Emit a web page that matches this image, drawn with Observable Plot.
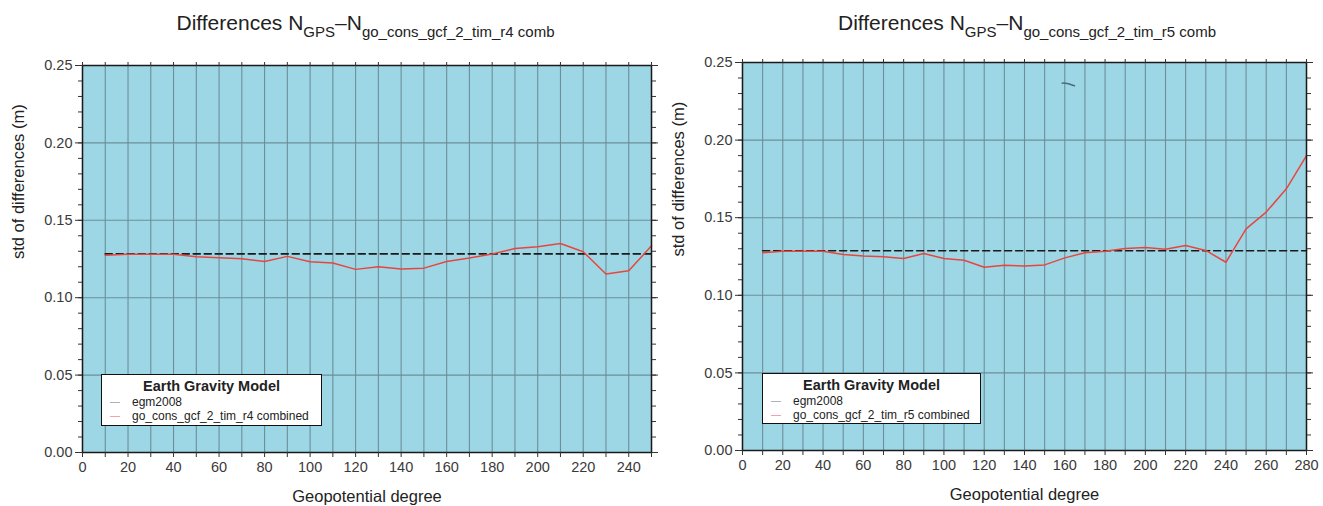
<!DOCTYPE html>
<html>
<head>
<meta charset="utf-8">
<script src="https://cdn.jsdelivr.net/npm/d3@7"></script>
<script src="https://cdn.jsdelivr.net/npm/@observablehq/plot@0.6"></script>
<style>
  html, body { margin: 0; padding: 0; background: #fff; }
  #root { position: relative; width: 1323px; height: 506px; overflow: hidden; font-family: "Liberation Sans", Arial, sans-serif; color: #222; }
  .panel { position: absolute; top: 0; height: 506px; }
  .panel svg { position: absolute; left: 0; top: 0; }
  .title { position: absolute; top: 11px; left: 0; text-align: center; font-size: 21px; color: #222; white-space: nowrap; }
  .title sub { font-size: 15px; vertical-align: -7px; line-height: 0; }
  .legend { position: absolute; background: #fff; border: 1.5px solid #111; box-sizing: border-box; font-size: 12px; color: #222; }
  .legend .lt { font-weight: bold; font-size: 14.5px; text-align: center; margin-top: 3px; line-height: 17px; }
  .legend .row { position: relative; height: 14px; line-height: 14px; padding-left: 30px; }
  .legend .sw { position: absolute; left: 8px; top: 7px; width: 10px; height: 0; border-top: 1.5px solid; }
</style>
</head>
<body>
<div id="root"></div>
<script>
// ---- data ----
const degreesLeft = [10,20,30,40,50,60,70,80,90,100,110,120,130,140,150,160,170,180,190,200,210,220,230,240,250];
const stdLeft = [0.1275,0.1280,0.1280,0.1280,0.1265,0.1258,0.1252,0.1234,0.1267,0.1232,0.1224,0.1183,0.1200,0.1185,0.1191,0.1234,0.1256,0.1282,0.1318,0.1329,0.1350,0.1297,0.1153,0.1174,0.1335];
const egmDegLeft = [10, 250];
const egmStdLeft = [0.1283, 0.1283];

const degreesRight = [10,20,30,40,50,60,70,80,90,100,110,120,130,140,150,160,170,180,190,200,210,220,230,240,250,260,270,280];
const stdRight = [0.1274,0.1284,0.1284,0.1284,0.1263,0.1254,0.1248,0.1237,0.1269,0.1237,0.1226,0.1181,0.1194,0.1188,0.1196,0.1241,0.1274,0.1284,0.1302,0.1308,0.1297,0.1321,0.1289,0.1213,0.1428,0.1536,0.1686,0.1900];
const egmDegRight = [10, 280];
const egmStdRight = [0.1287, 0.1287];
const strayDegRight = [158.7, 161.2, 164.8];
const strayStdRight = [0.2367, 0.2365, 0.2350];

const yTicks = [0, 0.05, 0.10, 0.15, 0.20, 0.25];
const yMinorTicks = d3.range(0, 0.2501, 0.01);
const xTicksLeft = d3.range(0, 251, 10);
const xTicksRight = d3.range(0, 281, 10);

const legendTitle = "Earth Gravity Model";
const legendEgm = "egm2008";
const legendLeft = "go_cons_gcf_2_tim_r4 combined";
const legendRight = "go_cons_gcf_2_tim_r5 combined";
const yLabel = "std of differences (m)";
const xLabel = "Geopotential degree";

// ---- style ----
const bg = "#9dd7e6";
const gridColor = "#6a8a96";
const red = "#e8463d";

function chart({width, marginLeft, marginRight, marginTop, marginBottom, xMax, xTicks, degs, stds, egmDegs, egmStds, stray}) {
  const marks = [
    Plot.frame({fill: bg, stroke: null}),
    Plot.gridX(xTicks, {stroke: gridColor, strokeOpacity: 0.95, strokeWidth: 1.1}),
    Plot.gridY(yTicks, {stroke: gridColor, strokeOpacity: 0.95, strokeWidth: 1.1}),
    Plot.line(egmDegs.map((d, i) => ({d, v: egmStds[i]})), {x: "d", y: "v", stroke: "#1a1a1a", strokeWidth: 1.6, strokeDasharray: "7,4"}),
    Plot.line(degs.map((d, i) => ({d, v: stds[i]})), {x: "d", y: "v", stroke: red, strokeWidth: 1.5})
  ];
  if (stray) marks.push(Plot.line(stray[0].map((d, i) => ({d, v: stray[1][i]})), {x: "d", y: "v", stroke: "#4a6c79", strokeWidth: 1.5, curve: "natural"}));
  marks.push(
    Plot.frame({stroke: "#1a1a1a", strokeWidth: 1.5}),
    Plot.axisX(xTicks, {anchor: "bottom", tickSize: 5, tickPadding: 4, label: null, tickFormat: d => d % 20 === 0 ? String(d) : "", stroke: "#333", fill: "#3a3a3a"}),
    Plot.axisX(xTicks, {anchor: "top", tickSize: 4, label: null, tickFormat: () => "", stroke: "#333"}),
    Plot.axisY(yTicks, {anchor: "left", tickSize: 7, tickPadding: 3, label: null, tickFormat: d3.format(".2f"), stroke: "#333", fill: "#3a3a3a"}),
    Plot.axisY(yMinorTicks, {anchor: "left", tickSize: 4, label: null, tickFormat: () => "", stroke: "#333"}),
    Plot.axisY(yTicks, {anchor: "right", tickSize: 6, label: null, tickFormat: () => "", stroke: "#333"}),
    Plot.axisY(yMinorTicks, {anchor: "right", tickSize: 4, label: null, tickFormat: () => "", stroke: "#333"}),
    Plot.text([yLabel], {frameAnchor: "left", text: d => d, rotate: -90, dx: -64, lineAnchor: "middle", fontSize: 16.5, fill: "#222"}),
    Plot.text([xLabel], {frameAnchor: "bottom", text: d => d, dy: 44, lineAnchor: "middle", fontSize: 16.5, fill: "#222"})
  );
  return Plot.plot({
    width, height: 506, marginLeft, marginRight, marginTop, marginBottom,
    x: {domain: [0, xMax]},
    y: {domain: [0, 0.25]},
    style: {fontFamily: "Liberation Sans, Arial, sans-serif", fontSize: "14.5px", background: "transparent", overflow: "visible"},
    marks
  });
}

function panel(left, width, svg, titleSub, legendBox, legendText) {
  const p = document.createElement("div");
  p.className = "panel";
  p.style.left = left + "px";
  p.style.width = width + "px";
  p.appendChild(svg);
  const t = document.createElement("div");
  t.className = "title";
  t.style.width = width + "px";
  t.style.left = titleSub.dx + "px";
  t.innerHTML = "Differences N<sub>GPS</sub>\u2013N<sub>" + titleSub.text + "</sub>";
  p.appendChild(t);
  const lg = document.createElement("div");
  lg.className = "legend";
  Object.assign(lg.style, {left: legendBox.x + "px", top: legendBox.y + "px", width: legendBox.w + "px", height: legendBox.h + "px"});
  lg.innerHTML = `<div class="lt">${legendTitle}</div>
    <div class="row"><span class="sw" style="border-color:#a9b4b8"></span>${legendEgm}</div>
    <div class="row"><span class="sw" style="border-color:#f3a3ac"></span>${legendText}</div>`;
  p.appendChild(lg);
  return p;
}

const root = document.getElementById("root");
const left = chart({width: 661, marginLeft: 82, marginRight: 10, marginTop: 65, marginBottom: 54, xMax: 250, xTicks: xTicksLeft,
  degs: degreesLeft, stds: stdLeft, egmDegs: egmDegLeft, egmStds: egmStdLeft});
root.appendChild(panel(0, 661, left, {text: "go_cons_gcf_2_tim_r4 comb", dx: 35}, {x: 101, y: 374, w: 221, h: 52}, legendLeft));

const right = chart({width: 662, marginLeft: 81, marginRight: 17, marginTop: 62, marginBottom: 56, xMax: 280, xTicks: xTicksRight,
  degs: degreesRight, stds: stdRight, egmDegs: egmDegRight, egmStds: egmStdRight, stray: [strayDegRight, strayStdRight]});
root.appendChild(panel(661, 662, right, {text: "go_cons_gcf_2_tim_r5 comb", dx: 35}, {x: 101, y: 373, w: 219, h: 51}, legendRight));
</script>
</body>
</html>
